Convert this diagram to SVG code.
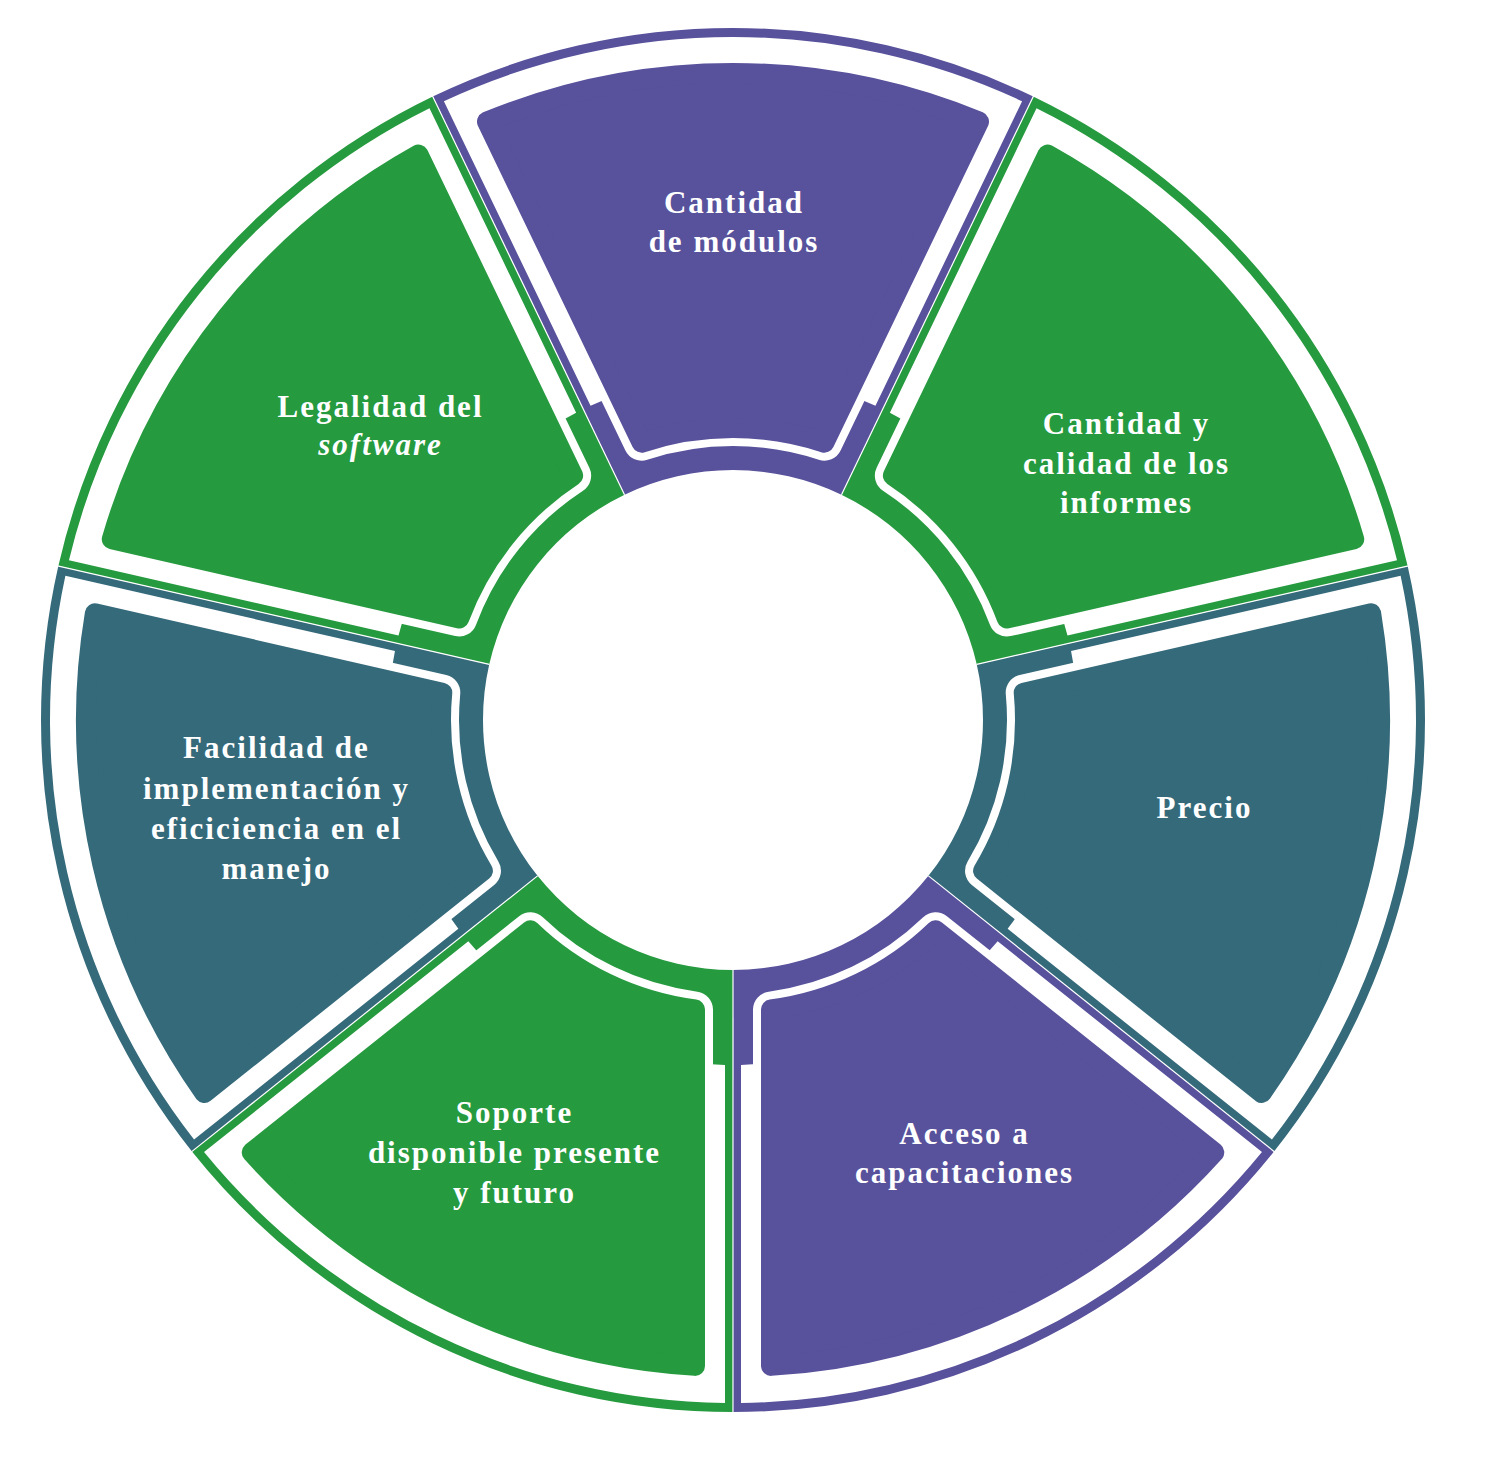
<svg xmlns="http://www.w3.org/2000/svg" width="1488" height="1476" viewBox="0 0 1488 1476">
<defs>
  <path id="sector" d="M -108.47,-225.24 L -300.25,-623.47 A 692 692 0 0 1 300.25,-623.47 L 108.47,-225.24 A 250 250 0 0 0 -108.47,-225.24 Z"/>
  <path id="gap" d="M -142.44,-314.22 L -289.11,-618.79 A 683 683 0 0 1 289.11,-618.79 L 142.44,-314.22 A 345 345 0 0 0 -142.44,-314.22 Z"/>
  <path id="core" d="M -91.38,-277.34 L -246.00,-598.41 A 647 647 0 0 1 246.00,-598.41 L 91.38,-277.34 A 292 292 0 0 0 -91.38,-277.34 Z"/>
</defs>
<style>
  .purple { fill: #58519c; stroke: #58519c; }
  .green { fill: #269a3f; stroke: #269a3f; }
  .teal { fill: #356a7b; stroke: #356a7b; }
  .box { stroke: none; }
  .gap { fill: #ffffff; stroke: none; }
  .halo { fill: #ffffff; stroke: #ffffff; stroke-width: 36; stroke-linejoin: round; }
  .core { stroke-width: 20; stroke-linejoin: round; }
  .lbl { font-family: "Liberation Serif", "Times New Roman", serif; font-weight: bold; font-size: 31px; fill: #ffffff; stroke: none; text-anchor: middle; letter-spacing: 2px; }
  .div line { stroke: #ffffff; stroke-width: 1.2; }
</style>
<rect width="1488" height="1476" fill="#ffffff"/>

<g id="node-modulos" class="purple">
  <g transform="translate(733,720) rotate(0)">
    <use href="#sector" class="box"/><use href="#gap" class="gap"/><use href="#core" class="halo"/><use href="#core" class="core"/>
  </g>
  <text class="lbl"><tspan x="734" y="213">Cantidad</tspan><tspan x="734" y="252">de módulos</tspan></text>
</g>

<g id="node-informes" class="green">
  <g transform="translate(733,720) rotate(51.4286)">
    <use href="#sector" class="box"/><use href="#gap" class="gap"/><use href="#core" class="halo"/><use href="#core" class="core"/>
  </g>
  <text class="lbl"><tspan x="1126.5" y="434">Cantidad y</tspan><tspan x="1126.5" y="474">calidad de los</tspan><tspan x="1126.5" y="513">informes</tspan></text>
</g>

<g id="node-precio" class="teal">
  <g transform="translate(733,720) rotate(102.8571)">
    <use href="#sector" class="box"/><use href="#gap" class="gap"/><use href="#core" class="halo"/><use href="#core" class="core"/>
  </g>
  <text class="lbl"><tspan x="1204.5" y="818">Precio</tspan></text>
</g>

<g id="node-capacitaciones" class="purple">
  <g transform="translate(733,720) rotate(154.2857)">
    <use href="#sector" class="box"/><use href="#gap" class="gap"/><use href="#core" class="halo"/><use href="#core" class="core"/>
  </g>
  <text class="lbl"><tspan x="964.5" y="1144">Acceso a</tspan><tspan x="964.5" y="1183">capacitaciones</tspan></text>
</g>

<g id="node-soporte" class="green">
  <g transform="translate(733,720) rotate(205.7143)">
    <use href="#sector" class="box"/><use href="#gap" class="gap"/><use href="#core" class="halo"/><use href="#core" class="core"/>
  </g>
  <text class="lbl"><tspan x="514.5" y="1123">Soporte</tspan><tspan x="514.5" y="1163">disponible presente</tspan><tspan x="514.5" y="1203">y futuro</tspan></text>
</g>

<g id="node-facilidad" class="teal">
  <g transform="translate(733,720) rotate(257.1429)">
    <use href="#sector" class="box"/><use href="#gap" class="gap"/><use href="#core" class="halo"/><use href="#core" class="core"/>
  </g>
  <text class="lbl"><tspan x="276.5" y="758">Facilidad de</tspan><tspan x="276.5" y="799">implementación y</tspan><tspan x="276.5" y="839">eficiciencia en el</tspan><tspan x="276.5" y="879">manejo</tspan></text>
</g>

<g id="node-legalidad" class="green">
  <g transform="translate(733,720) rotate(308.5714)">
    <use href="#sector" class="box"/><use href="#gap" class="gap"/><use href="#core" class="halo"/><use href="#core" class="core"/>
  </g>
  <text class="lbl"><tspan x="380.5" y="417">Legalidad del</tspan><tspan x="380.5" y="455" font-style="italic">software</tspan></text>
</g>

<g id="dividers" class="div" transform="translate(733,720)">
  <line x1="-108.47" y1="-225.24" x2="-301.6" y2="-626.3" transform="rotate(0)"/>
  <line x1="-108.47" y1="-225.24" x2="-301.6" y2="-626.3" transform="rotate(51.4286)"/>
  <line x1="-108.47" y1="-225.24" x2="-301.6" y2="-626.3" transform="rotate(102.8571)"/>
  <line x1="-108.47" y1="-225.24" x2="-301.6" y2="-626.3" transform="rotate(154.2857)"/>
  <line x1="-108.47" y1="-225.24" x2="-301.6" y2="-626.3" transform="rotate(205.7143)"/>
  <line x1="-108.47" y1="-225.24" x2="-301.6" y2="-626.3" transform="rotate(257.1429)"/>
  <line x1="-108.47" y1="-225.24" x2="-301.6" y2="-626.3" transform="rotate(308.5714)"/>
</g>
</svg>
